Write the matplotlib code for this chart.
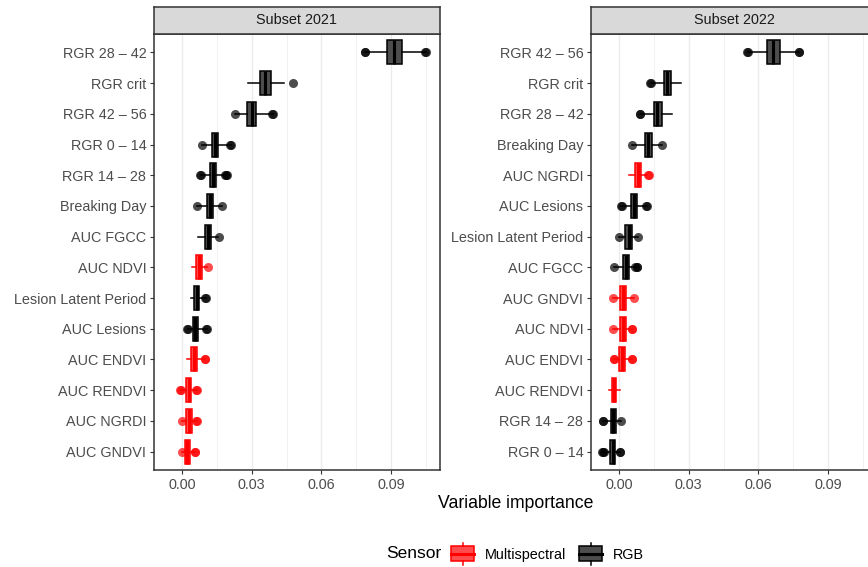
import numpy as np
import matplotlib
matplotlib.use("Agg")
import matplotlib.pyplot as plt
from matplotlib.patches import Rectangle
from matplotlib.lines import Line2D
from matplotlib.legend_handler import HandlerBase

plt.rcParams['font.family'] = ['Liberation Sans', 'DejaVu Sans']

# ---- data ----
# Subset 2021, top to bottom
labels_2021 = ["RGR 28 – 42", "RGR crit", "RGR 42 – 56", "RGR 0 – 14", "RGR 14 – 28",
               "Breaking Day", "AUC FGCC", "AUC NDVI", "Lesion Latent Period",
               "AUC Lesions", "AUC ENDVI", "AUC RENDVI", "AUC NGRDI", "AUC GNDVI"]
sensor_2021 = ["RGB", "RGB", "RGB", "RGB", "RGB", "RGB", "RGB", "Multispectral", "RGB",
               "RGB", "Multispectral", "Multispectral", "Multispectral", "Multispectral"]
lo_2021 = [0.0789, 0.0282, 0.0226, 0.0084, 0.0079, 0.0063, 0.0069, 0.0041, 0.0036,
           0.0023, 0.0019, -0.0006, -0.0003, -0.0003]
q1_2021 = [0.0885, 0.0335, 0.0281, 0.0127, 0.0120, 0.0105, 0.0098, 0.0058, 0.0052,
           0.0045, 0.0038, 0.0016, 0.0015, 0.0010]
med_2021 = [0.0915, 0.0358, 0.0300, 0.0140, 0.0133, 0.0118, 0.0111, 0.0071, 0.0062,
            0.0057, 0.0050, 0.0027, 0.0027, 0.0022]
q3_2021 = [0.0947, 0.0381, 0.0318, 0.0154, 0.0145, 0.0131, 0.0124, 0.0084, 0.0073,
           0.0069, 0.0062, 0.0039, 0.0040, 0.0035]
hi_2021 = [0.1050, 0.0440, 0.0390, 0.0209, 0.0190, 0.0170, 0.0155, 0.0105, 0.0101,
           0.0105, 0.0098, 0.0062, 0.0062, 0.0055]
pts_2021 = [[0.0789, 0.0790, 0.1048, 0.1050], [0.0479], [0.0226, 0.0386, 0.0390],
            [0.0084, 0.0208, 0.0209], [0.0078, 0.0079, 0.0186, 0.0190, 0.0194],
            [0.0063, 0.0170], [0.0160], [0.0112], [0.0099, 0.0101],
            [0.0022, 0.0023, 0.0103, 0.0106], [0.0096, 0.0099],
            [-0.0008, -0.0005, 0.0061, 0.0063], [-0.0003, 0.0061, 0.0063],
            [-0.0003, 0.0054, 0.0056]]

# Subset 2022, top to bottom
labels_2022 = ["RGR 42 – 56", "RGR crit", "RGR 28 – 42", "Breaking Day", "AUC NGRDI",
               "AUC Lesions", "Lesion Latent Period", "AUC FGCC", "AUC GNDVI",
               "AUC NDVI", "AUC ENDVI", "AUC RENDVI", "RGR 14 – 28", "RGR 0 – 14"]
sensor_2022 = ["RGB", "RGB", "RGB", "RGB", "Multispectral", "RGB", "RGB", "RGB",
               "Multispectral", "Multispectral", "Multispectral", "Multispectral", "RGB", "RGB"]
lo_2022 = [0.0554, 0.0135, 0.0089, 0.0055, 0.0040, 0.0009, -0.0002, -0.0023, -0.0028,
           -0.0028, -0.0023, -0.0046, -0.0071, -0.0071]
q1_2022 = [0.0639, 0.0192, 0.0148, 0.0110, 0.0066, 0.0049, 0.0026, 0.0017, 0.0003,
           0.0003, 0.0000, -0.0032, -0.0035, -0.0038]
med_2022 = [0.0665, 0.0208, 0.0164, 0.0124, 0.0079, 0.0063, 0.0040, 0.0030, 0.0017,
            0.0017, 0.0013, -0.0023, -0.0025, -0.0028]
q3_2022 = [0.0694, 0.0225, 0.0183, 0.0140, 0.0092, 0.0078, 0.0053, 0.0040, 0.0030,
           0.0030, 0.0026, -0.0013, -0.0016, -0.0019]
hi_2022 = [0.0776, 0.0265, 0.0226, 0.0186, 0.0118, 0.0118, 0.0080, 0.0074, 0.0063,
           0.0055, 0.0055, 0.0004, 0.0009, 0.0004]
pts_2022 = [[0.0553, 0.0555, 0.0775, 0.0777], [0.0134, 0.0136], [0.0088, 0.0090],
            [0.0055, 0.0186], [0.0125, 0.0128], [0.0008, 0.0010, 0.0117, 0.0119],
            [-0.0002, 0.0080], [-0.0023, 0.0069, 0.0076, 0.0078], [-0.0028, 0.0063],
            [-0.0028, 0.0054, 0.0056], [-0.0024, -0.0022, 0.0054, 0.0056], [],
            [-0.0072, -0.0069, 0.0009], [-0.0073, -0.0070, -0.0067, 0.0003, 0.0005]]

sensor_colors = {"Multispectral": "#FF0000", "RGB": "#000000"}
x_ticks = [0.00, 0.03, 0.06, 0.09]
x_minor = [0.015, 0.045, 0.075, 0.105]

W, H = 868, 567
fig = plt.figure(figsize=(W / 100, H / 100), dpi=100)


def to_fig(x0, y0, x1, y1):
    return [x0 / W, 1 - y1 / H, (x1 - x0) / W, (y1 - y0) / H]


def fill_of(c):
    rgb = np.array(matplotlib.colors.to_rgb(c))
    return tuple(rgb * 0.7 + 0.3)


def draw_panel(ax, title, labels, sensor, lo, q1, med, q3, hi, pts):
    n = len(labels)
    pos = np.arange(1, n + 1)
    for i in range(n):
        c = sensor_colors[sensor[i]]
        st = [dict(med=med[i], q1=q1[i], q3=q3[i], whislo=lo[i], whishi=hi[i], fliers=[])]
        ax.bxp(st, positions=[pos[i]], widths=0.78, orientation='horizontal',
               patch_artist=True, showfliers=False, showcaps=False,
               boxprops=dict(facecolor=fill_of(c), edgecolor=c, linewidth=1.1),
               whiskerprops=dict(color=c, linewidth=1.1),
               medianprops=dict(color=c, linewidth=2.2, solid_capstyle='butt'),
               zorder=3)
        if pts[i]:
            ax.plot(pts[i], [pos[i]] * len(pts[i]), 'o', color=c, alpha=0.7,
                    markersize=6.5, markeredgewidth=0, zorder=4)
    ax.set_yticks(pos)
    ax.set_yticklabels(labels)
    ax.set_ylim(n + 0.6, 0.4)
    ax.set_xlim(-0.0122, 0.1112)
    ax.set_xticks(x_ticks)
    ax.set_xticklabels([f"{v:.2f}" for v in x_ticks])
    ax.set_xticks(x_minor, minor=True)
    ax.grid(True, axis='x', which='major', color='#EBEBEB', linewidth=1.0, zorder=0)
    ax.grid(True, axis='x', which='minor', color='#EBEBEB', linewidth=0.5, zorder=0)
    ax.set_axisbelow(True)
    ax.tick_params(axis='both', which='major', length=3, width=0.8, color='#333333',
                   labelcolor='#4D4D4D', labelsize=10.4, pad=2.5)
    ax.tick_params(axis='x', which='minor', length=0)
    for s in ax.spines.values():
        s.set_color('#333333')
        s.set_linewidth(1.1)
    ax.set_xlabel("")
    ax.set_ylabel("")


ax1 = fig.add_axes(to_fig(154, 34, 440, 470))
ax2 = fig.add_axes(to_fig(591, 34, 877, 470))
draw_panel(ax1, "Subset 2021", labels_2021, sensor_2021, lo_2021, q1_2021, med_2021,
           q3_2021, hi_2021, pts_2021)
draw_panel(ax2, "Subset 2022", labels_2022, sensor_2022, lo_2022, q1_2022, med_2022,
           q3_2022, hi_2022, pts_2022)

# facet strips
for (x0, x1), title in [((154, 440), "Subset 2021"), ((591, 877), "Subset 2022")]:
    sax = fig.add_axes(to_fig(x0, 7, x1, 34))
    sax.set_facecolor('#D9D9D9')
    sax.set_xticks([])
    sax.set_yticks([])
    for s in sax.spines.values():
        s.set_color('#333333')
        s.set_linewidth(1.1)
    sax.text(0.5, 0.5, title, ha='center', va='center', fontsize=10.4,
             color='#1A1A1A', transform=sax.transAxes)

fig.text(515.5 / W, 1 - 503 / H, "Variable importance", ha='center', va='center',
         fontsize=12.7, color='black')


# legend with vertical boxplot keys
class BoxKey(HandlerBase):
    def create_artists(self, legend, orig, xd, yd, width, height, fontsize, trans):
        c = orig.get_color()
        x0, y0 = -xd, -yd
        rect = Rectangle((x0, y0), width, height, facecolor=fill_of(c), edgecolor=c,
                         linewidth=1.1, transform=trans)
        mid = Line2D([x0, x0 + width], [y0 + height / 2] * 2, color=c, linewidth=2.2,
                     transform=trans)
        ext = height * 0.25
        top = Line2D([x0 + width / 2] * 2, [y0 + height, y0 + height + ext], color=c,
                     linewidth=1.1, transform=trans)
        bot = Line2D([x0 + width / 2] * 2, [y0 - ext, y0], color=c, linewidth=1.1,
                     transform=trans)
        return [rect, mid, top, bot]


handles = [Line2D([], [], color=sensor_colors[k]) for k in ["Multispectral", "RGB"]]
leg = fig.legend(handles, ["Multispectral", "RGB"], handler_map={Line2D: BoxKey()},
                 loc='center left', bbox_to_anchor=(451 / W, 1 - 554 / H), ncol=2,
                 frameon=False, fontsize=10.4, handlelength=1.6, handleheight=1.17,
                 handletextpad=0.75, columnspacing=0.9, borderpad=0, borderaxespad=0)
fig.text(441 / W, 1 - 553 / H, "Sensor", ha='right', va='center', fontsize=12.5,
         color='black')

fig.savefig("out.png", dpi=100)
